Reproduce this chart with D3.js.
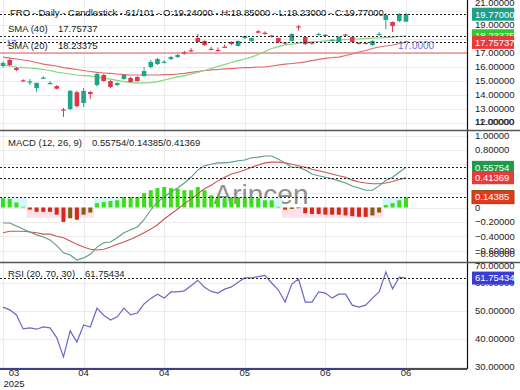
<!DOCTYPE html>
<html>
<head>
<meta charset="utf-8">
<script src="https://cdn.jsdelivr.net/npm/d3@7"></script>
<style>
  body { margin: 0; background: #fff; }
  svg { display: block; font-family: "Liberation Sans", Arial, sans-serif; }
</style>
</head>
<body>
<div id="chart"></div>
<script>
// ---- data (61 daily bars) ----
const opens  = [16.07,16.5,15.93,15.05,14.9,14.5,15.2,14.82,14.64,12.97,13.0,14.2,13.43,14.21,14.71,15.43,15.0,14.71,15.14,15.21,15.29,15.36,16.0,16.21,16.36,16.57,16.71,17.05,17.2,18.07,17.86,17.3,17.22,17.45,17.79,17.5,18.07,17.86,18.55,18.45,18.25,18.07,17.75,17.86,18.9,18.14,17.75,18.33,18.3,17.9,17.79,18.32,18.14,17.73,17.73,17.57,18.3,19.36,19.21,19.29,19.24];
const highs  = [16.4,16.6,16.0,15.12,15.14,14.9,15.35,15.0,14.7,13.07,14.35,14.3,14.5,14.29,15.6,15.5,15.05,14.9,15.5,15.3,15.35,16.0,16.5,16.65,16.5,16.8,16.95,17.15,17.35,18.36,17.9,17.45,17.4,17.6,17.85,17.9,18.25,18.1,18.65,18.55,18.3,18.1,17.8,18.4,19.0,18.2,17.8,18.45,18.35,18.0,18.2,18.38,18.2,17.8,17.8,17.9,18.5,19.86,19.25,19.85,19.85];
const lows   = [15.95,16.05,15.7,14.95,14.71,14.21,15.15,14.75,14.4,12.43,12.9,13.1,13.14,13.72,14.6,14.95,14.5,14.65,15.1,14.9,14.95,15.29,15.9,16.15,16.25,16.5,16.65,16.9,17.05,17.75,17.5,17.2,17.1,17.35,17.55,17.45,18.0,17.8,18.4,18.3,18.1,17.7,17.6,17.8,18.6,17.55,17.6,18.25,18.2,17.85,17.75,18.2,17.75,17.6,17.6,17.5,18.25,18.71,18.5,19.2,19.23];
const closes = [16.29,16.14,15.79,14.98,14.97,14.86,15.24,14.86,14.45,12.9,14.3,13.2,14.29,14.07,15.5,15.0,14.57,14.86,15.43,14.93,15.0,15.71,16.36,16.57,16.38,16.71,16.86,16.98,17.12,17.79,17.57,17.27,17.2,17.42,17.64,17.86,18.21,18.07,18.45,18.4,18.2,17.79,17.7,18.36,18.82,17.64,17.69,18.36,18.25,17.95,18.14,18.27,17.79,17.69,17.68,17.86,18.36,19.71,18.93,19.79,19.77];

const sma20 = [16.11,16.07,16.0,15.96,15.93,15.89,15.82,15.75,15.64,15.57,15.5,15.43,15.39,15.36,15.29,15.21,15.14,15.04,14.96,14.89,14.86,14.86,14.89,14.96,15.07,15.18,15.29,15.39,15.5,15.61,15.75,15.89,16.04,16.18,16.32,16.46,16.57,16.71,16.89,17.11,17.32,17.46,17.57,17.64,17.71,17.75,17.79,17.82,17.86,17.89,17.93,17.96,18.0,18.01,18.04,18.06,18.07,18.11,18.14,18.18,18.23375];
const sma40 = [16.71,16.64,16.57,16.5,16.43,16.32,16.21,16.14,16.07,15.96,15.89,15.82,15.75,15.68,15.61,15.57,15.54,15.5,15.46,15.43,15.43,15.43,15.43,15.43,15.46,15.46,15.5,15.54,15.61,15.68,15.75,15.79,15.82,15.86,15.89,15.93,15.96,15.96,16.0,16.0,16.07,16.14,16.21,16.25,16.29,16.36,16.46,16.54,16.61,16.68,16.71,16.82,16.93,17.07,17.18,17.32,17.43,17.5,17.57,17.68,17.75737];

const macdLine   = [-0.215,-0.215,-0.257,-0.3,-0.34,-0.38,-0.41,-0.45,-0.53,-0.63,-0.66,-0.73,-0.7,-0.65,-0.55,-0.49,-0.48,-0.42,-0.35,-0.31,-0.27,-0.17,-0.035,0.076,0.146,0.215,0.27,0.34,0.42,0.52,0.58,0.6,0.62,0.62,0.63,0.65,0.66,0.69,0.7,0.715,0.715,0.67,0.62,0.56,0.56,0.52,0.465,0.44,0.42,0.4,0.37,0.34,0.3,0.27,0.24,0.24,0.3,0.375,0.42,0.49,0.55754];
const signalLine = [-0.35,-0.33,-0.33,-0.33,-0.34,-0.35,-0.37,-0.37,-0.4,-0.42,-0.465,-0.51,-0.55,-0.58,-0.59,-0.58,-0.55,-0.51,-0.48,-0.44,-0.4,-0.35,-0.3,-0.24,-0.16,-0.09,-0.02,0.05,0.12,0.19,0.26,0.31,0.37,0.42,0.465,0.49,0.52,0.56,0.59,0.62,0.63,0.63,0.62,0.6,0.58,0.56,0.53,0.51,0.49,0.465,0.44,0.42,0.38,0.355,0.34,0.33,0.33,0.34,0.36,0.39,0.41369];
const macdHist   = [0.13,0.12,0.07,0.01,-0.03,-0.06,-0.06,-0.06,-0.1,-0.2,-0.15,-0.17,-0.1,-0.07,0.06,0.075,0.09,0.1,0.145,0.145,0.145,0.2,0.24,0.27,0.285,0.27,0.26,0.24,0.24,0.285,0.24,0.17,0.145,0.13,0.145,0.145,0.145,0.145,0.13,0.1,0.1,0.01,-0.03,-0.02,-0.01,-0.08,-0.09,-0.09,-0.1,-0.1,-0.1,-0.11,-0.12,-0.13,-0.13,-0.11,-0.07,0.035,0.06,0.1,0.14385];

const rsiValues = [51.4,50.4,48.6,43.6,44,43.5,44.3,44,40.5,33.6,42.9,38.9,45,44.3,51,48.5,46.8,47.9,51,48.6,49.3,52.5,54.5,56,54.6,56.8,56.8,57.2,59,61,58.5,57,56.4,57.8,58.6,60.3,61.8,61.8,62.3,62.7,60,57.5,53.2,59.6,61.4,53.2,53.2,56.8,56.4,54.6,56,56,52.1,51.4,52.1,54.6,56.8,63.9,57.9,62.1,61.75434];

const xTickBars   = [0, 12, 24, 36, 48, 60];
const xTickLabels = ["03", "04", "04", "05", "06", "06"];
const yearLabel   = "2025";
const priceTicks  = [11, 12, 13, 14, 15, 16, 17, 18, 19, 20, 21];
const macdTicks   = [-0.8, -0.6, -0.4, -0.2, 0, 0.2, 0.4, 0.6, 0.8, 1.0];
const rsiTicks    = [30, 40, 50, 60, 70];
const hLineLevel  = 17.0;

const last = closes.length - 1;
const fmt = d3.format(".5f");
const tickFmt = d => d === 0 ? "0" : fmt(d);

// ---- layout ----
const W = 520, H = 390, plotR = 467;
const main = { top: 0, bottom: 130 };
const mp = { top: 131, bottom: 262 };
const rp = { top: 263, bottom: 369 };
const FS = "9.5px";

const svg = d3.select("#chart").append("svg").attr("width", W).attr("height", H);
const defs = svg.append("defs");
[["clipMain", main], ["clipMacd", mp], ["clipRsi", rp]].forEach(([id, p]) => {
    defs.append("clipPath").attr("id", id).append("rect")
        .attr("x", 0).attr("y", p.top).attr("width", plotR).attr("height", p.bottom - p.top);
});

const x = d3.scaleLinear().domain([0, last]).range([3, 406]);
const step = x(1) - x(0);
const yP = d3.scaleLinear().domain([17, 19]).range([53, 25]);
const yM = d3.scaleLinear().domain([0, 1]).range([207.5, 135.5]);
const yR = d3.scaleLinear().domain([40, 50]).range([339, 311]);
const idx = d3.range(closes.length);

// grid helper
function grid(g, scale, ticks, p) {
    g.selectAll(null).data(ticks).join("line")
        .attr("x1", 0).attr("x2", plotR)
        .attr("y1", d => Math.round(scale(d)) + 0.5).attr("y2", d => Math.round(scale(d)) + 0.5)
        .attr("stroke", "#ececec");
    g.selectAll(null).data(xTickBars).join("line")
        .attr("x1", d => Math.round(x(d)) + 0.5).attr("x2", d => Math.round(x(d)) + 0.5)
        .attr("y1", p.top).attr("y2", p.bottom)
        .attr("stroke", "#ececec");
}
function dashed(g, yv) {
    g.append("line").attr("x1", 0).attr("x2", plotR)
        .attr("y1", Math.round(yv) + 0.5).attr("y2", Math.round(yv) + 0.5)
        .attr("stroke", "#222").attr("stroke-dasharray", "2,2");
}

// ---- main price panel ----
const gMain = svg.append("g").attr("clip-path", "url(#clipMain)");
grid(gMain, yP, priceTicks, main);

gMain.append("line").attr("x1", 0).attr("x2", plotR)
    .attr("y1", yP(hLineLevel)).attr("y2", yP(hLineLevel))
    .attr("stroke", "#e05a5a").attr("stroke-width", 1.2);

const lineP = arr => d3.line().x(i => x(i)).y(i => yP(arr[i]))(idx);
gMain.append("path").attr("d", lineP(sma40)).attr("fill", "none")
    .attr("stroke", "#e06b6b").attr("stroke-width", 1.2);
gMain.append("path").attr("d", lineP(sma20)).attr("fill", "none")
    .attr("stroke", "#7fd67f").attr("stroke-width", 1.2);

const upCol = "#20a486", downCol = "#e0364a";
const candles = gMain.selectAll("g.candle").data(idx).join("g").attr("class", "candle");
candles.append("line")
    .attr("x1", i => x(i)).attr("x2", i => x(i))
    .attr("y1", i => yP(highs[i])).attr("y2", i => yP(lows[i]))
    .attr("stroke", i => closes[i] >= opens[i] ? upCol : downCol);
candles.append("rect")
    .attr("x", i => x(i) - 2.3).attr("width", 4.6)
    .attr("y", i => yP(Math.max(opens[i], closes[i])))
    .attr("height", i => Math.max(1.2, Math.abs(yP(opens[i]) - yP(closes[i]))))
    .attr("fill", i => closes[i] >= opens[i] ? upCol : downCol);

[closes[last], sma20[last], sma40[last]].forEach(v => dashed(gMain, yP(v)));

// level label
svg.append("text").attr("x", 398).attr("y", yP(hLineLevel) - 4)
    .attr("font-size", "10px").attr("fill", "#6f6fd8").text(hLineLevel.toFixed(4));
svg.append("text").attr("x", 6).attr("y", 46)
    .attr("font-size", FS).attr("fill", "#6f6fd8").text("17");

// ---- MACD panel ----
const gM = svg.append("g").attr("clip-path", "url(#clipMacd)");
grid(gM, yM, macdTicks, mp);
gM.append("text").attr("x", 261).attr("y", 204).attr("text-anchor", "middle")
    .attr("font-size", "28px").attr("fill", "#8e8e8e").text("Arincen");

// light band behind the small histogram bars
const bandH = 0.14;
gM.selectAll("rect.band").data(idx.filter(i => macdHist[i] < 0 || macdHist[i] < bandH)).join("rect")
    .attr("class", "band")
    .attr("x", i => x(i) - step / 2).attr("width", step + 0.3)
    .attr("y", i => macdHist[i] >= 0 ? yM(bandH) : yM(0))
    .attr("height", yM(0) - yM(bandH))
    .attr("fill", i => macdHist[i] >= 0 ? "#d4f7f7" : "#fde0ea");

gM.selectAll("rect.hist").data(idx).join("rect").attr("class", "hist")
    .attr("x", i => x(i) - 2).attr("width", 4)
    .attr("y", i => yM(Math.max(0, macdHist[i])))
    .attr("height", i => Math.abs(yM(macdHist[i]) - yM(0)))
    .attr("fill", i => macdHist[i] >= 0 ? "#3ddc1c"
        : (i > 0 && macdHist[i] > macdHist[i - 1] ? "#8a5a10" : "#d42a1a"));

const lineM = arr => d3.line().x(i => x(i)).y(i => yM(arr[i]))(idx);
gM.append("path").attr("d", lineM(signalLine)).attr("fill", "none")
    .attr("stroke", "#c8574e").attr("stroke-width", 1.1);
gM.append("path").attr("d", lineM(macdLine)).attr("fill", "none")
    .attr("stroke", "#5a9e82").attr("stroke-width", 1.1);
[macdLine[last], signalLine[last], macdHist[last]].forEach(v => dashed(gM, yM(v)));

// ---- RSI panel ----
const gR = svg.append("g").attr("clip-path", "url(#clipRsi)");
grid(gR, yR, rsiTicks, rp);
gR.append("path").attr("d", d3.line().x(i => x(i)).y(i => yR(rsiValues[i]))(idx))
    .attr("fill", "none").attr("stroke", "#6a6ac4").attr("stroke-width", 1.2);
dashed(gR, yR(rsiValues[last]));

// ---- frame ----
svg.append("line").attr("x1", plotR + 0.5).attr("x2", plotR + 0.5).attr("y1", 0).attr("y2", rp.bottom)
    .attr("stroke", "#111").attr("stroke-width", 1.2);
[main.bottom, mp.bottom].forEach(yv => svg.append("line")
    .attr("x1", 0).attr("x2", W).attr("y1", yv + 0.5).attr("y2", yv + 0.5)
    .attr("stroke", "#555").attr("stroke-width", 1.3));
svg.append("line").attr("x1", 0).attr("x2", plotR).attr("y1", rp.bottom).attr("y2", rp.bottom)
    .attr("stroke", "#111").attr("stroke-width", 1.3);
svg.append("line").attr("x1", 0).attr("x2", x(last)).attr("y1", rp.bottom).attr("y2", rp.bottom)
    .attr("stroke", "#3a3aa0").attr("stroke-width", 1.6);

// ---- right axis labels ----
function axisLabels(scale, ticks, p, clampBottom) {
    svg.selectAll(null).data(ticks).join("text")
        .attr("x", 475)
        .attr("y", d => {
            let yv = scale(d);
            yv = Math.max(p.top + 3, yv);
            if (clampBottom) yv = Math.min(p.bottom - 8, yv);
            return yv;
        })
        .attr("dy", "0.35em").attr("font-size", FS).attr("fill", "#222")
        .text(tickFmt);
}
axisLabels(yP, priceTicks, main, true);
axisLabels(yM, macdTicks, mp, true);
axisLabels(yR, rsiTicks, rp, false);

function tag(yv, text, bg, border) {
    svg.append("rect").attr("x", 472).attr("y", yv - 6.5).attr("width", 42).attr("height", 13)
        .attr("fill", bg).attr("stroke", border || "none");
    svg.append("text").attr("x", 475).attr("y", yv).attr("dy", "0.35em")
        .attr("font-size", FS).attr("fill", "#fff").text(text);
}
tag(yP(closes[last]), fmt(closes[last]), "#1f9e8a");
tag(yP(sma20[last]), fmt(sma20[last]), "#2ecb2e");
tag(yP(sma40[last]), fmt(sma40[last]), "#ea3b3b");
tag(yM(macdLine[last]), fmt(macdLine[last]), "#1f9a4c");
tag(yM(signalLine[last]), fmt(signalLine[last]), "#ea3b3b");
tag(yM(macdHist[last]), fmt(macdHist[last]), "#e23a1e", "#8a4a10");
tag(yR(rsiValues[last]), fmt(rsiValues[last]), "#3b3bd8");

// ---- x axis labels ----
svg.selectAll(null).data(xTickBars).join("text")
    .attr("x", d => Math.max(14, x(d))).attr("y", 376)
    .attr("text-anchor", "middle").attr("font-size", FS).attr("fill", "#222")
    .text((d, i) => xTickLabels[i]);
svg.append("text").attr("x", 14).attr("y", 387).attr("text-anchor", "middle")
    .attr("font-size", FS).attr("fill", "#222").text(yearLabel);

// ---- titles / legends ----
function label(xv, yv, text) {
    svg.append("text").attr("x", xv).attr("y", yv).attr("dy", "0.35em")
        .attr("font-size", FS).attr("fill", "#222").text(text);
}
label(10, 13, `FRO - Daily - Candlestick - ${closes.length}/101 - O:${fmt(opens[last])} - H:${fmt(highs[last])} - L:${fmt(lows[last])} - C:${fmt(closes[last])}`);
label(8, 29, "SMA (40)"); label(58, 29, fmt(sma40[last]));
label(8, 46, "SMA (20)"); label(58, 46, fmt(sma20[last]));
label(8, 143, "MACD (12, 26, 9)");
label(92, 143, `${fmt(macdLine[last])}/${fmt(macdHist[last])}/${fmt(signalLine[last])}`);
label(8, 274, "RSI (20, 70, 30)");
label(85, 274, fmt(rsiValues[last]));
</script>
</body>
</html>
